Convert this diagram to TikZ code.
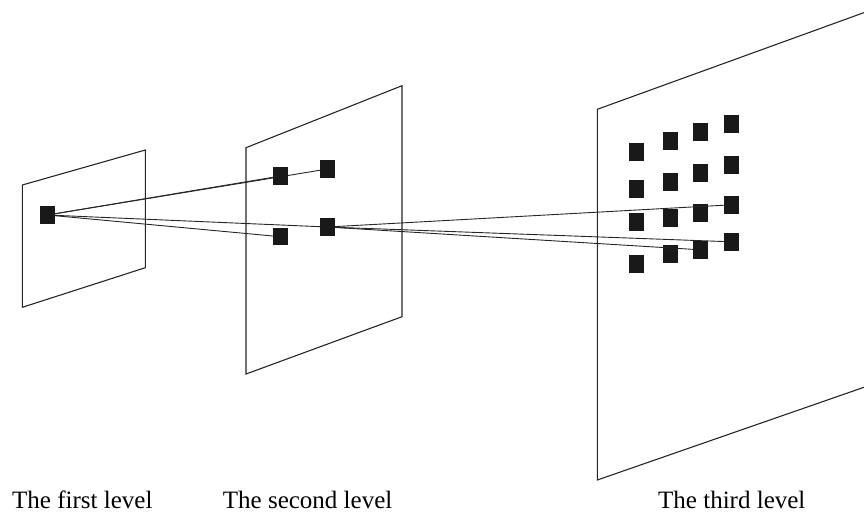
\documentclass[tikz,border=0pt]{standalone}
\usepackage{fontspec}
\setmainfont{Liberation Serif}
\begin{document}
\begin{tikzpicture}[x=1pt,y=-1pt,
  plane/.style={draw=black!85,line width=1.1pt,line join=miter},
  sq/.style={fill=black!90,draw=none,minimum width=15pt,minimum height=17.5pt,inner sep=0pt,outer sep=0pt},
  conn/.style={draw=black!85,line width=0.9pt},
  lbl/.style={anchor=base west,inner sep=0pt,font=\fontsize{25}{30}\selectfont}]
\clip (0,0) rectangle (864,515);
% planes
\draw[plane] (22.3,185) -- (145.3,150) -- (145.3,267.7) -- (22.3,307.3) -- cycle;
\draw[plane] (246,147.7) -- (402,85.7) -- (402,316.7) -- (246,374) -- cycle;
\draw[plane] (880,6.8) -- (597.3,109.3) -- (597.3,480) -- (880,381.7);
% level 1
\node[sq] (s1) at (47.5,215) {};
% level 2
\node[sq] (a) at (280.5,176) {};
\node[sq] (b) at (327.5,169) {};
\node[sq] (c) at (280.5,236.7) {};
\node[sq] (d) at (327.5,227) {};
% level 3
\node[sq] (t11) at (636.5,151.8) {};
\node[sq] (t12) at (636.5,188.8) {};
\node[sq] (t13) at (636.5,221.8) {};
\node[sq] (t14) at (636.5,263.8) {};
\node[sq] (t21) at (670.5,140.8) {};
\node[sq] (t22) at (670.5,181.8) {};
\node[sq] (t23) at (670.5,217.8) {};
\node[sq] (t24) at (670.5,253.8) {};
\node[sq] (t31) at (700.5,131.8) {};
\node[sq] (t32) at (700.5,172.8) {};
\node[sq] (t33) at (700.5,212.8) {};
\node[sq] (t34) at (700.5,249.8) {};
\node[sq] (t41) at (731.5,123.8) {};
\node[sq] (t42) at (731.5,164.8) {};
\node[sq] (t43) at (731.5,204.8) {};
\node[sq] (t44) at (731.5,241.8) {};
% connectors
\draw[conn] (s1.center) -- (a.center);
\draw[conn] (s1.center) -- (b.center);
\draw[conn] (s1.center) -- (c.center);
\draw[conn] (s1.center) -- (d.center);
\draw[conn] (d.center) -- (t43.center);
\draw[conn] (d.center) -- (t44.center);
\draw[conn] (d.center) -- (t34.center);
% redraw squares over connectors
\foreach \n in {s1,a,b,c,d,t43,t44,t34}{\fill[black!90] (\n.south west) rectangle (\n.north east);}
% labels
\node[lbl] (l1) at (12,508) {The first level};
\node[lbl] (l2) at (222.7,508) {The second level};
\node[lbl] (l3) at (658,508) {The third level};
\end{tikzpicture}
\end{document}
